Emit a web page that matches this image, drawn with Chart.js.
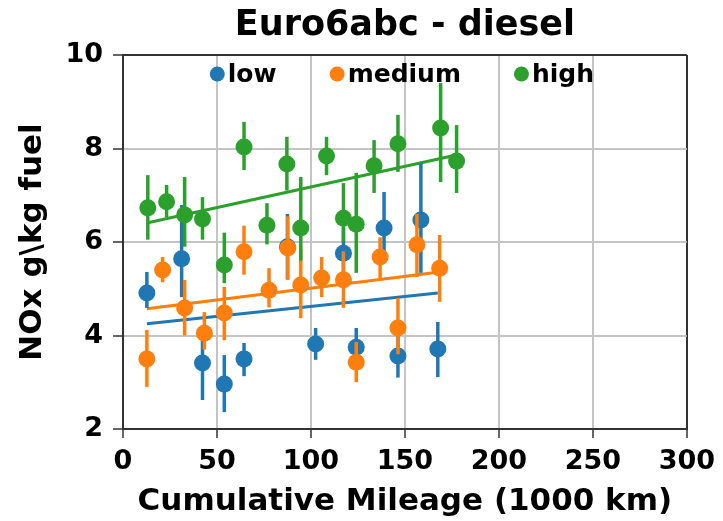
<!DOCTYPE html>
<html>
<head>
<meta charset="utf-8">
<script src="https://cdn.jsdelivr.net/npm/chart.js@4.4.1/dist/chart.umd.min.js"></script>
<style>
  html, body { margin: 0; padding: 0; background: #fff; }
  #wrap { width: 723px; height: 521px; }
</style>
</head>
<body>
<div id="wrap"><canvas id="nox"></canvas></div>
<script>
// mileage (1000 km), mean NOx and error bar ends, per load class
const lowMileage = [12.7, 31.2, 42.3, 53.9, 64.4, 87.5, 102.5, 117.3, 124.1, 138.9, 146.3, 158.5, 167.5];
const lowNox     = [4.91, 5.64, 3.41, 2.96, 3.50, 5.90, 3.82, 5.76, 3.75, 6.30, 3.56, 6.47, 3.71];
const lowMin     = [4.59, 4.82, 2.62, 2.36, 3.13, 5.20, 3.48, 5.30, 3.40, 5.55, 3.10, 5.34, 3.11];
const lowMax     = [5.36, 6.79, 4.05, 3.58, 3.84, 6.60, 4.16, 6.30, 4.16, 7.07, 4.00, 7.69, 4.29];

const medMileage = [12.7, 21.1, 32.8, 43.3, 53.9, 64.4, 77.7, 87.7, 94.6, 105.7, 117.3, 124.1, 136.8, 146.3, 156.4, 168.5];
const medNox     = [3.50, 5.40, 4.59, 4.05, 4.48, 5.79, 4.97, 5.87, 5.08, 5.23, 5.19, 3.43, 5.68, 4.16, 5.94, 5.44];
const medMin     = [2.90, 5.14, 4.00, 3.70, 3.90, 5.30, 4.60, 5.19, 4.37, 4.82, 4.59, 3.00, 5.19, 3.60, 5.25, 4.72];
const medMax     = [4.12, 5.68, 5.19, 4.50, 5.04, 6.35, 5.44, 6.55, 5.85, 5.68, 5.80, 3.86, 6.10, 4.80, 6.60, 6.15];

const highMileage = [13.2, 23.2, 32.8, 42.3, 53.9, 64.4, 76.6, 87.2, 94.6, 108.3, 117.3, 124.1, 133.6, 146.3, 169.0, 177.5];
const highNox     = [6.73, 6.86, 6.58, 6.49, 5.51, 8.03, 6.36, 7.67, 6.30, 7.84, 6.51, 6.38, 7.63, 8.10, 8.44, 7.73];
const highMin     = [6.05, 6.53, 5.90, 6.05, 5.12, 7.54, 5.95, 7.10, 5.60, 7.43, 6.00, 5.34, 7.05, 7.50, 7.28, 7.05];
const highMax     = [7.43, 7.22, 7.39, 6.96, 6.20, 8.57, 6.83, 8.25, 7.39, 8.25, 7.26, 7.48, 8.18, 8.72, 9.40, 8.50];

// fitted trend lines, read at both ends
const lowFitX = [12.7, 167.5];
const lowFitY = [4.25, 4.91];
const medFitX = [12.7, 168.5];
const medFitY = [4.57, 5.36];
const highFitX = [13.2, 177.5];
const highFitY = [6.41, 7.86];

const xTicks = [0, 50, 100, 150, 200, 250, 300];
const yTicks = [2, 4, 6, 8, 10];

const blue = '#1f77b4';
const orange = '#ff7f0e';
const green = '#2ca02c';
const axisDark = '#333333';
const gridGray = '#c4c4c4';
const fontFamily = "'DejaVu Sans', sans-serif";

const toPoints = (xs, ys) => xs.map((x, i) => ({ x: x, y: ys[i] }));

const scatterSet = (label, xs, ys, lo, hi, color, order) => ({
  label: label,
  data: toPoints(xs, ys),
  errLo: lo,
  errHi: hi,
  backgroundColor: color,
  borderColor: color,
  pointRadius: 8.5,
  pointHoverRadius: 8.5,
  pointBorderWidth: 0,
  showLine: false,
  order: order,
  inLegend: true,
});

const fitSet = (xs, ys, color) => ({
  data: toPoints(xs, ys),
  borderColor: color,
  borderWidth: 3,
  pointRadius: 0,
  showLine: true,
  order: 10,
});

// vertical error bars, drawn just before each scatter set
const errorBars = {
  id: 'errorBars',
  beforeDatasetDraw(chart, args) {
    const ds = chart.data.datasets[args.index];
    if (!ds.errLo) return;
    const { ctx, scales: { x, y } } = chart;
    ctx.save();
    ctx.strokeStyle = ds.borderColor;
    ctx.lineWidth = 3.5;
    ds.data.forEach((p, i) => {
      const px = x.getPixelForValue(p.x);
      ctx.beginPath();
      ctx.moveTo(px, y.getPixelForValue(ds.errLo[i]));
      ctx.lineTo(px, y.getPixelForValue(ds.errHi[i]));
      ctx.stroke();
    });
    ctx.restore();
  },
};

// matplotlib-like frameless legend inside the top of the axes
const innerLegend = {
  id: 'innerLegend',
  afterDatasetsDraw(chart) {
    const { ctx, chartArea } = chart;
    const items = chart.data.datasets.filter(d => d.inLegend);
    const r = 7.5, gap = 3, colGap = 53;
    ctx.save();
    ctx.font = 'bold 25px ' + fontFamily;
    const widths = items.map(d => 2 * r + gap + ctx.measureText(d.label).width);
    const total = widths.reduce((a, b) => a + b, 0) + colGap * (items.length - 1);
    let x = (chartArea.left + chartArea.right) / 2 - total / 2 - 3;
    const cy = chartArea.top + 19;
    ctx.textBaseline = 'middle';
    items.forEach((d, i) => {
      ctx.fillStyle = d.backgroundColor;
      ctx.beginPath();
      ctx.arc(x + r, cy, r, 0, Math.PI * 2);
      ctx.fill();
      ctx.fillStyle = '#000';
      ctx.fillText(d.label, x + 2 * r + gap, cy + 1);
      x += widths[i] + colGap;
    });
    ctx.restore();
  },
};

new Chart(document.getElementById('nox'), {
  type: 'scatter',
  data: {
    datasets: [
      scatterSet('low', lowMileage, lowNox, lowMin, lowMax, blue, 3),
      scatterSet('medium', medMileage, medNox, medMin, medMax, orange, 2),
      scatterSet('high', highMileage, highNox, highMin, highMax, green, 1),
      fitSet(lowFitX, lowFitY, blue),
      fitSet(medFitX, medFitY, orange),
      fitSet(highFitX, highFitY, green),
    ],
  },
  options: {
    animation: false,
    responsive: true,
    maintainAspectRatio: false,
    layout: { padding: { left: 0, right: 32, top: 0, bottom: 0 } },
    scales: {
      x: {
        type: 'linear',
        min: 0,
        max: 300,
        afterFit: (s) => { s.height = 92; },
        afterBuildTicks: (s) => { s.ticks = xTicks.map(v => ({ value: v })); },
        border: { color: axisDark, width: 2 },
        grid: {
          color: (c) => (c.tick && c.tick.value === 300 ? axisDark : gridGray),
          lineWidth: 2,
          tickLength: 9,
          tickColor: axisDark,
          tickWidth: 1.5,
        },
        ticks: {
          color: '#000',
          padding: 8,
          maxRotation: 0,
          font: { family: fontFamily, size: 27, weight: 'bold' },
        },
        title: {
          display: true,
          text: 'Cumulative Mileage (1000 km)',
          color: '#000',
          padding: { top: 0, bottom: 0 },
          font: { family: fontFamily, size: 31, weight: 'bold' },
        },
      },
      y: {
        type: 'linear',
        min: 2,
        max: 10,
        afterFit: (s) => { s.width = 123; },
        afterBuildTicks: (s) => { s.ticks = yTicks.map(v => ({ value: v })); },
        border: { color: axisDark, width: 2 },
        grid: {
          color: (c) => (c.tick && c.tick.value === 10 ? axisDark : gridGray),
          lineWidth: 2,
          tickLength: 10,
          tickColor: axisDark,
          tickWidth: 1.5,
        },
        ticks: {
          color: '#000',
          padding: 10,
          font: { family: fontFamily, size: 27, weight: 'bold' },
        },
        title: {
          display: true,
          text: 'NOx g\\kg fuel',
          color: '#000',
          padding: { top: 14, bottom: 0 },
          font: { family: fontFamily, size: 31, weight: 'bold' },
        },
      },
    },
    plugins: {
      legend: { display: false },
      tooltip: { enabled: false },
      title: {
        display: true,
        fullSize: false,
        text: 'Euro6abc - diesel',
        color: '#000',
        padding: { top: 5, bottom: 8 },
        font: { family: fontFamily, size: 35, weight: 'bold', lineHeight: 1.2 },
      },
    },
  },
  plugins: [errorBars, innerLegend],
});
</script>
</body>
</html>
